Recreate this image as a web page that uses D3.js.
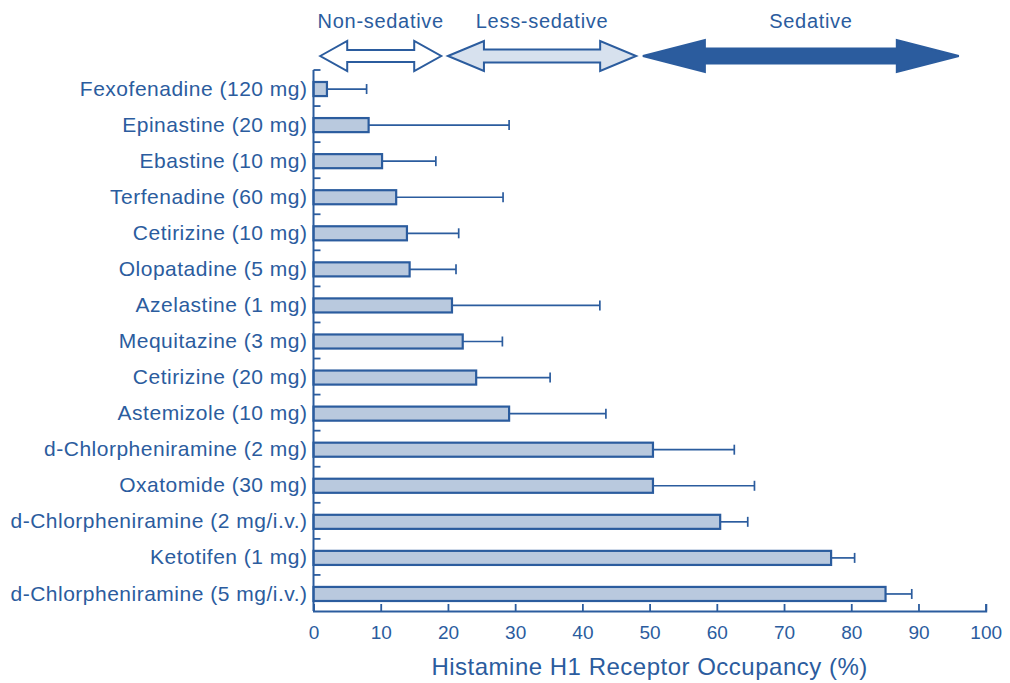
<!DOCTYPE html>
<html>
<head>
<meta charset="utf-8">
<script src="https://cdn.jsdelivr.net/npm/d3@7"></script>
<style>
  body { margin: 0; background: #fff; }
  svg { display: block; font-family: "Liberation Sans", Arial, sans-serif; }
</style>
</head>
<body>
<svg width="1010" height="683"></svg>
<script>
const drugs = [
    "Fexofenadine (120 mg)",
    "Epinastine (20 mg)",
    "Ebastine (10 mg)",
    "Terfenadine (60 mg)",
    "Cetirizine (10 mg)",
    "Olopatadine (5 mg)",
    "Azelastine (1 mg)",
    "Mequitazine (3 mg)",
    "Cetirizine (20 mg)",
    "Astemizole (10 mg)",
    "d-Chlorpheniramine (2 mg)",
    "Oxatomide (30 mg)",
    "d-Chlorpheniramine (2 mg/i.v.)",
    "Ketotifen (1 mg)",
    "d-Chlorpheniramine (5 mg/i.v.)"
];
const occupancy = [2.0, 8.2, 10.2, 12.3, 13.9, 14.3, 20.6, 22.2, 24.2, 29.1, 50.5, 50.5, 60.5, 77.0, 85.1];
const errorTop = [7.9, 29.1, 18.2, 28.2, 21.6, 21.2, 42.6, 28.1, 35.2, 43.5, 62.6, 65.6, 64.6, 80.5, 89.0];
const xTicks = [0, 10, 20, 30, 40, 50, 60, 70, 80, 90, 100];

const zoneNames = ["Non-sedative", "Less-sedative", "Sedative"];
const zoneFrom = [1, 20, 49];
const zoneTo = [19, 48, 96];
const zoneLabelAt = [10, 34, 74];

const blue = "#2b5c9e";
const svg = d3.select("svg");

const area = { left: 313.5, right: 985.7, top: 70, bottom: 611 };

const x = d3.scaleLinear().domain([0, 100]).range([area.left, area.right]);
const y = d3.scaleBand().domain(drugs).range([area.top, area.bottom]).padding(0);

// bars
const barH = y.bandwidth() * 0.39;
const rows = drugs.map((d, i) => ({ name: d, value: occupancy[i], err: errorTop[i] }));

// error bars first so the bar outline sits on top
const errG = svg.append("g").attr("stroke", blue).attr("stroke-width", 1.7);
errG.selectAll("line.err")
    .data(rows)
    .enter()
    .append("line")
    .attr("x1", (d) => x(d.value))
    .attr("x2", (d) => x(d.err))
    .attr("y1", (d) => y(d.name) + y.bandwidth() / 2 + 1)
    .attr("y2", (d) => y(d.name) + y.bandwidth() / 2 + 1);
errG.selectAll("line.cap")
    .data(rows)
    .enter()
    .append("line")
    .attr("x1", (d) => x(d.err))
    .attr("x2", (d) => x(d.err))
    .attr("y1", (d) => y(d.name) + y.bandwidth() / 2 + 1 - 5)
    .attr("y2", (d) => y(d.name) + y.bandwidth() / 2 + 1 + 5);

svg.append("g")
    .selectAll("rect")
    .data(rows)
    .enter()
    .append("rect")
    .attr("x", x(0))
    .attr("y", (d) => y(d.name) + (y.bandwidth() - barH) / 2 + 1)
    .attr("width", (d) => x(d.value) - x(0))
    .attr("height", barH)
    .attr("fill", "#b9c9de")
    .attr("stroke", blue)
    .attr("stroke-width", 2.2);

// x axis, ticks pointing up into the plot
const axisX = d3.axisBottom(x).tickValues(xTicks).tickSizeInner(-7).tickSizeOuter(-7).tickPadding(15);
const gx = svg.append("g")
    .attr("transform", `translate(0, ${area.bottom})`)
    .call(axisX);
gx.select(".domain").attr("stroke", blue).attr("stroke-width", 2);
gx.selectAll(".tick line").attr("stroke", blue).attr("stroke-width", 1.8);
gx.selectAll(".tick text")
    .attr("fill", blue)
    .style("font-size", "19px")
    .style("font-family", "'Liberation Sans', Arial, sans-serif");

// y axis: labels at band centres, ticks at band boundaries
const axisY = d3.axisLeft(y).tickSize(0).tickPadding(6);
const gy = svg.append("g")
    .attr("transform", `translate(${area.left}, 0)`)
    .call(axisY);
gy.select(".domain").remove();
gy.selectAll(".tick text")
    .attr("fill", blue)
    .attr("dy", "0.36em")
    .style("font-size", "21px")
    .style("letter-spacing", "0.5px")
    .style("font-family", "'Liberation Sans', Arial, sans-serif");

svg.append("line")
    .attr("x1", area.left).attr("x2", area.left)
    .attr("y1", area.top).attr("y2", area.bottom)
    .attr("stroke", blue).attr("stroke-width", 2);

svg.append("g")
    .selectAll("line")
    .data(drugs)
    .enter()
    .append("line")
    .attr("x1", area.left)
    .attr("x2", area.left + 7)
    .attr("y1", (d) => y(d))
    .attr("y2", (d) => y(d))
    .attr("stroke", blue)
    .attr("stroke-width", 1.8);

// axis title
svg.append("text")
    .attr("x", (area.left + area.right) / 2)
    .attr("y", 675)
    .attr("text-anchor", "middle")
    .attr("fill", blue)
    .style("font-size", "24px")
    .style("letter-spacing", "0.5px")
    .text("Histamine H1 Receptor Occupancy (%)");

// sedation zones: double arrows with labels
const arrowStyle = [
    { head: 27, headHalf: 15, shaftHalf: 6, fill: "#ffffff" },
    { head: 36, headHalf: 15, shaftHalf: 6.5, fill: "#d7e1ee" },
    { head: 62, headHalf: 16, shaftHalf: 7.5, fill: blue }
];
const arrowY = 56;

function arrowPoints(x0, x1, s) {
    const c = arrowY;
    return [
        [x0, c], [x0 + s.head, c - s.headHalf], [x0 + s.head, c - s.shaftHalf],
        [x1 - s.head, c - s.shaftHalf], [x1 - s.head, c - s.headHalf], [x1, c],
        [x1 - s.head, c + s.headHalf], [x1 - s.head, c + s.shaftHalf],
        [x0 + s.head, c + s.shaftHalf], [x0 + s.head, c + s.headHalf]
    ].map((p) => p.join(",")).join(" ");
}

const zones = zoneNames.map((n, i) => ({ name: n, from: zoneFrom[i], to: zoneTo[i], at: zoneLabelAt[i], style: arrowStyle[i] }));

svg.append("g")
    .selectAll("polygon")
    .data(zones)
    .enter()
    .append("polygon")
    .attr("points", (d) => arrowPoints(x(d.from), x(d.to), d.style))
    .attr("fill", (d) => d.style.fill)
    .attr("stroke", blue)
    .attr("stroke-width", 2)
    .attr("stroke-linejoin", "miter");

svg.append("g")
    .selectAll("text")
    .data(zones)
    .enter()
    .append("text")
    .attr("x", (d) => x(d.at))
    .attr("y", 28)
    .attr("text-anchor", "middle")
    .attr("fill", blue)
    .style("font-size", "20px")
    .style("letter-spacing", "0.7px")
    .text((d) => d.name);
</script>
</body>
</html>
